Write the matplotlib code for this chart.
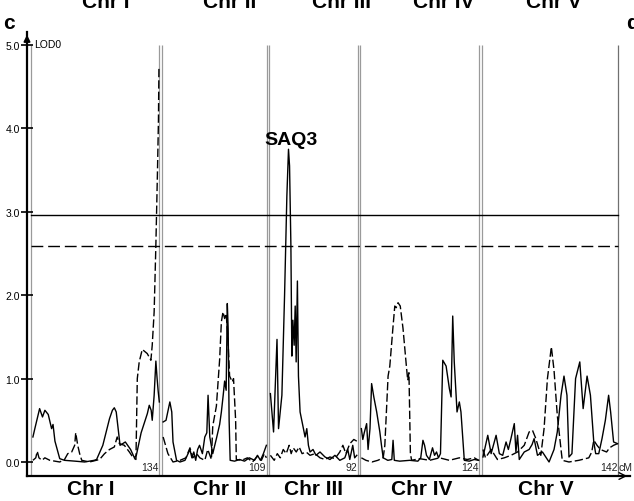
import matplotlib
matplotlib.use("Agg")
import matplotlib.pyplot as plt
import numpy as np

# ---------------- data ----------------
chrom_names = ["Chr I", "Chr II", "Chr III", "Chr IV", "Chr V"]
chrom_lengths = [134, 109, 92, 124, 142]
thr_solid = 2.96
thr_dashed = 2.59
peak_label = "SAQ3"

# Chr I
chr1_solid_pos = [2, 4, 9, 12, 14.5, 18, 21.5, 23, 25, 30, 35, 46, 56, 66, 68.5, 75, 82, 85, 87, 89, 90, 93,
                  98.5, 104, 108, 110, 115, 121.5, 123.5, 125.5, 126.6, 128.6, 130.4, 131.7, 132.8, 134]
chr1_solid_lod = [0.30, 0.40, 0.64, 0.54, 0.62, 0.57, 0.40, 0.45, 0.25, 0.04, 0.02, 0.01, 0.0, 0.02, 0.03, 0.2, 0.52,
                  0.62, 0.65, 0.6, 0.5, 0.2, 0.24, 0.15, 0.05, 0.08, 0.35, 0.58, 0.68, 0.62, 0.5, 0.8, 1.21, 1.0,
                  0.85, 0.72]
chr1_dash_pos = [2, 5, 6.5, 8.3, 11.4, 14.5, 19.7, 25, 30, 35, 38.4, 42.5, 45.6, 46.7, 48.8, 50.8, 53, 61, 71.6,
                 76.8, 82, 87, 90, 92.3, 97.5, 102.7, 106.8, 109.6, 111, 113, 116.2, 121.4, 125.2, 126.6, 128.6,
                 130.4, 132.1, 133.1, 133.6]
chr1_dash_lod = [0.02, 0.05, 0.13, 0.05, 0.02, 0.05, 0.02, 0.01, 0.0, 0.03, 0.1, 0.12, 0.2, 0.35, 0.2, 0.1, 0.02,
                 0.0, 0.03, 0.1, 0.15, 0.18, 0.3, 0.22, 0.2, 0.12, 0.05, 0.03, 1.0, 1.2, 1.35, 1.3, 1.22, 1.4, 1.8,
                 2.6, 3.5, 4.1, 4.72]

# Chr II
chr2_solid_pos = [1, 4, 8, 10, 11.3, 15, 18.6, 23.8, 27, 29, 31, 33, 35, 37, 39, 42, 44.5, 46.6, 47.9, 49.7,
                  52.8, 56.6, 60, 61.8, 63.7, 65.2, 66.8, 68, 68.9, 69.9, 71, 75.6, 80.8, 86, 91, 96.4, 99.5,
                  102.6, 105.7, 108.8]
chr2_solid_lod = [0.48, 0.5, 0.72, 0.6, 0.24, 0.02, 0.0, 0.02, 0.1, 0.15, 0.05, 0.12, 0.02, 0.15, 0.2, 0.1, 0.3,
                  0.35, 0.8, 0.3, 0.1, 0.28, 0.45, 0.6, 0.8, 0.97, 0.86, 1.9, 1.6, 0.5, 0.02, 0.01, 0.03, 0.01,
                  0.05, 0.02, 0.08, 0.02, 0.1, 0.2]
chr2_dash_pos = [1, 6, 11.3, 18.6, 24.8, 29, 32, 36, 39.3, 44.5, 47.6, 51.4, 52.8, 56.6, 60, 61.8, 63.5, 65.2,
                 66.8, 68.7, 70.4, 73.2, 74.5, 76.7, 77.4, 83, 89, 94.3, 99.5, 103.6, 106.7, 108.8]
chr2_dash_lod = [0.3, 0.1, 0.0, 0.02, 0.05, 0.17, 0.05, 0.1, 0.05, 0.02, 0.15, 0.03, 0.43, 0.67, 1.23, 1.68, 1.8,
                 1.72, 1.78, 1.47, 1.03, 0.96, 1.0, 0.5, 0.03, 0.02, 0.05, 0.0, 0.07, 0.02, 0.1, 0.05]

# Chr III
chr3_solid_pos = [1, 4.3, 7.9, 9.5, 13, 15.8, 18.2, 19.9, 21, 22.4, 23.4, 24.5, 25.8, 26.9, 27.9, 29.2, 30.3, 32,
                  35.5, 37.2, 39, 40.7, 42.4, 45.5, 48.6, 52.8, 58, 63.2, 68.4, 73.5, 78.7, 81.8, 83.9, 87, 89,
                  91.2]
chr3_solid_lod = [0.82, 0.36, 1.47, 0.4, 0.8, 2.0, 3.19, 3.75, 3.55, 2.6, 1.27, 1.7, 1.4, 1.87, 1.2, 2.17, 1.03,
                  0.6, 0.4, 0.3, 0.4, 0.2, 0.12, 0.15, 0.08, 0.12, 0.06, 0.03, 0.08, 0.02, 0.05, 0.15, 0.03, 0.2,
                  0.05, 0.08]
chr3_dash_pos = [1, 5, 8.2, 11.3, 14.4, 17.5, 20.6, 22.7, 24.8, 28, 31, 34.1, 38.3, 42.4, 47.6, 52.8, 58, 63.2,
                 68.4, 73.5, 76.7, 79.8, 84, 88.1, 91.2]
chr3_dash_lod = [0.08, 0.02, 0.1, 0.05, 0.15, 0.1, 0.2, 0.1, 0.17, 0.12, 0.18, 0.1, 0.12, 0.08, 0.1, 0.05, 0.03,
                 0.06, 0.04, 0.12, 0.2, 0.1, 0.22, 0.27, 0.25]

# Chr IV
chr4_solid_pos = [1, 2.5, 4, 6.5, 8, 10, 11.7, 14, 17, 20.3, 22, 23.8, 28.6, 32.8, 34.1, 35.4, 41, 51.5, 60,
                  63, 65.3, 67, 69, 72, 75.3, 77.4, 79.5, 81.5, 83.6, 86, 89.5, 92.9, 94.7, 96.4, 98, 100.9,
                  103.3, 105, 108.5, 113.7, 118.9, 123.5]
chr4_solid_lod = [0.4, 0.27, 0.35, 0.46, 0.15, 0.4, 0.94, 0.78, 0.6, 0.36, 0.2, 0.05, 0.02, 0.03, 0.26, 0.02,
                  0.01, 0.02, 0.01, 0.05, 0.26, 0.2, 0.08, 0.03, 0.17, 0.08, 0.12, 0.05, 0.1, 1.22, 1.15, 0.88,
                  0.78, 1.75, 1.2, 0.6, 0.72, 0.6, 0.02, 0.01, 0.03, 0.02]
chr4_dash_pos = [1, 5.8, 12, 18.2, 23.8, 25.5, 28.9, 30.7, 34.1, 35.9, 37.4, 39.3, 41.6, 44.5, 48, 49.4, 50.7,
                 52.2, 53.5, 61.8, 72.2, 82.6, 92.9, 103.3, 111.6, 118.9, 123.5]
chr4_dash_lod = [0.05, 0.02, 0.0, 0.02, 0.05, 0.2, 1.03, 1.15, 1.63, 1.87, 1.85, 1.91, 1.87, 1.6, 1.15, 0.98,
                 1.07, 0.1, 0.02, 0.04, 0.02, 0.05, 0.02, 0.05, 0.03, 0.05, 0.02]

# Chr V
chr5_solid_pos = [1, 6, 9.5, 14.7, 18.1, 21.6, 25.1, 27.5, 30.2, 33.7, 35.4, 37.1, 38.9, 44.1, 49.2, 52.3, 54.4,
                  57.9, 63.1, 70, 75.2, 78.6, 82.5, 85.6, 88.7, 90.8, 93.9, 97.7, 102.1, 105.6, 109.7, 113.2,
                  116.7, 118.7, 121.9, 125.3, 128.8, 132.2, 134.3, 137.4, 141.5]
chr5_solid_lod = [0.06, 0.32, 0.1, 0.32, 0.1, 0.08, 0.24, 0.15, 0.28, 0.46, 0.12, 0.32, 0.03, 0.12, 0.15, 0.21,
                  0.28, 0.08, 0.12, 0.0, 0.15, 0.36, 0.8, 1.03, 0.8, 0.06, 0.1, 1.0, 1.2, 0.64, 1.03, 0.8, 0.24,
                  0.1, 0.1, 0.28, 0.5, 0.8, 0.6, 0.24, 0.22]
chr5_dash_pos = [1, 3.6, 9.5, 16.1, 23.3, 30.2, 37.1, 44.1, 49.2, 52.7, 56.2, 61.4, 64.8, 68.3, 72.4, 75.2, 78.6,
                 82.8, 83.8, 90.8, 101.1, 111.5, 114.6, 116.7, 120.1, 123.6, 130.1, 133.2, 137.4, 141.5]
chr5_dash_lod = [0.15, 0.05, 0.15, 0.03, 0.05, 0.08, 0.12, 0.2, 0.36, 0.38, 0.28, 0.08, 0.4, 1.0, 1.38, 1.1,
                 0.56, 0.12, 0.02, 0.0, 0.02, 0.05, 0.12, 0.26, 0.2, 0.15, 0.12, 0.17, 0.2, 0.22]

solid_pos = [chr1_solid_pos, chr2_solid_pos, chr3_solid_pos, chr4_solid_pos, chr5_solid_pos]
solid_lod = [chr1_solid_lod, chr2_solid_lod, chr3_solid_lod, chr4_solid_lod, chr5_solid_lod]
dash_pos = [chr1_dash_pos, chr2_dash_pos, chr3_dash_pos, chr4_dash_pos, chr5_dash_pos]
dash_lod = [chr1_dash_lod, chr2_dash_lod, chr3_dash_lod, chr4_dash_lod, chr5_dash_lod]

# ---------------- figure ----------------
W, H = 634, 502
fig = plt.figure(figsize=(W / 100, H / 100), dpi=100)
ax_l, ax_r, ax_b, ax_t = 27, 630, 477, 33
ax = fig.add_axes([ax_l / W, 1 - ax_b / H, (ax_r - ax_l) / W, (ax_b - ax_t) / H])

gap = 3
offsets = np.concatenate([[0], np.cumsum(np.array(chrom_lengths) + gap)[:-1]])
total = offsets[-1] + chrom_lengths[-1]
pxcm = 587 / total
ax.set_xlim(-(31 - ax_l) / pxcm, -(31 - ax_l) / pxcm + (ax_r - ax_l) / pxcm)
ax.set_ylim(-0.168, 5.156)

small_font = ['Liberation Sans Narrow', 'Liberation Sans', 'DejaVu Sans']
bold_font = ['Liberation Sans', 'DejaVu Sans']

# chromosome boundary lines
n = len(chrom_lengths)
for i, (off, L) in enumerate(zip(offsets, chrom_lengths)):
    ax.plot([off, off], [-0.168, 5.0], color='#9a9a9a', lw=0.9, solid_capstyle='butt', zorder=1)
    endcol = '#707070' if i == n - 1 else '#9a9a9a'
    ax.plot([off + L, off + L], [-0.168, 5.0], color=endcol, lw=0.9, solid_capstyle='butt', zorder=1)

# threshold lines
ax.plot([0, total], [thr_solid, thr_solid], color='black', lw=1.0, zorder=2)
ax.plot([0, total], [thr_dashed, thr_dashed], color='black', lw=1.0, dashes=(8.5, 3.5), zorder=2)

# LOD curves
for off, sp, sl, dp, dl in zip(offsets, solid_pos, solid_lod, dash_pos, dash_lod):
    ax.plot(off + np.array(sp), sl, color='black', lw=1.0, zorder=3)
    ax.plot(off + np.array(dp), dl, color='black', lw=1.0, dashes=(6, 2.2), zorder=3)

# chromosome length labels
for off, L in zip(offsets, chrom_lengths):
    ax.text(off + L - 0.8, -0.06, str(L), ha='right', va='center', fontsize=7.5,
            family=small_font, color='#222222')
ax.text(total + 0.3, -0.06, "cM", ha='left', va='center', fontsize=7.5, family=small_font, color='#222222')

# axes styling
for s in ('top', 'right'):
    ax.spines[s].set_visible(False)
ax.spines['left'].set_linewidth(1.6)
ax.spines['bottom'].set_linewidth(1.6)
ax.set_xticks([])
ax.set_yticks([0, 1, 2, 3, 4, 5])
ax.set_yticklabels(["0.0", "1.0", "2.0", "3.0", "4.0", "5.0"], family=small_font, fontsize=7.5)
ax.tick_params(axis='y', direction='inout', length=8, width=1.2, pad=1)

# arrows
ax.annotate("", xy=(0, 1.0), xytext=(0, 0.96), xycoords='axes fraction',
            arrowprops=dict(arrowstyle='-|>', color='black', lw=1.4, mutation_scale=9), annotation_clip=False)
ax.annotate("", xy=(1.0, 0), xytext=(0.97, 0), xycoords='axes fraction',
            arrowprops=dict(arrowstyle='->', color='black', lw=1.0, mutation_scale=12), annotation_clip=False)

ax.text(0.011, 0.985, "LOD0", transform=ax.transAxes, ha='left', va='top', fontsize=7.5, family=small_font)

# peak label
ax.text(offsets[2] + 23, 3.81, peak_label, ha='center', va='baseline', fontsize=14, fontweight='bold',
        family=bold_font)

# chromosome names (top, cut off as in the source) and bottom
top_centers = [106, 230, 342, 444, 554]
bottom_centers = [91, 220, 313, 422, 546]
for name, xc in zip(chrom_names, top_centers):
    fig.text(xc / W, 1 - 8 / H, name, ha='center', va='baseline', fontsize=15, fontweight='bold',
             family=bold_font)
for name, xc in zip(chrom_names, bottom_centers):
    fig.text(xc / W, 1 - 495 / H, name, ha='center', va='baseline', fontsize=15, fontweight='bold',
             family=bold_font)

# panel letters
fig.text(3 / W, 1 - 29 / H, "c", ha='left', va='baseline', fontsize=15, fontweight='bold', family=bold_font)
fig.text(626 / W, 1 - 29 / H, "d", ha='left', va='baseline', fontsize=15, fontweight='bold', family=bold_font)

fig.savefig("out.png", dpi=100)
